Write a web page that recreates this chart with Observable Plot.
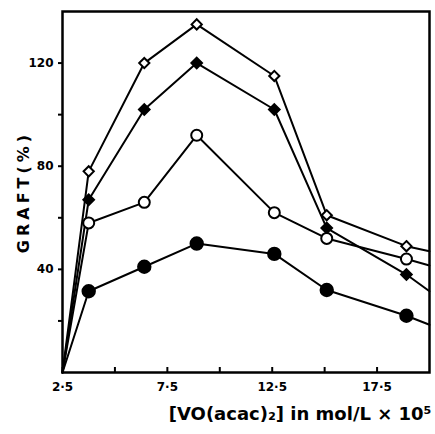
<!DOCTYPE html>
<html>
<head>
<meta charset="utf-8">
<script src="https://cdn.jsdelivr.net/npm/d3@7"></script>
<script src="https://cdn.jsdelivr.net/npm/@observablehq/plot@0.6"></script>
<style>
  html, body { margin: 0; padding: 0; background: #fff; }
  #chart svg { display: block; }
</style>
</head>
<body>
<div id="chart"></div>
<script>
// Concentration values (x) where markers are drawn, plus line start/end
const xMarkers = [3.75, 6.4, 8.9, 12.6, 15.1, 18.9];
const xStart = 2.5;
const xEnd = 20;

// Series (GRAFT %)
const openDiamond   = [78, 120, 135, 115, 61, 49];
const filledDiamond = [67, 102, 120, 102, 56, 38];
const openCircle    = [58, 66, 92, 62, 52, 44];
const filledCircle  = [31.5, 41, 50, 46, 32, 22];
const startValue = 0;
const endOpenDiamond = 47;
const endFilledDiamond = 31.5;
const endOpenCircle = 41.5;
const endFilledCircle = 18.5;

const xTicks = [2.5, 5, 7.5, 10, 12.5, 15, 17.5];
const xTickLabels = ["2·5", "", "7·5", "", "12·5", "", "17·5"];
const yTicks = [20, 40, 60, 80, 100, 120];
const yTickLabels = ["", "40", "", "80", "", "120"];

const yLabel = "GRAFT(%)";
const xLabel = "[VO(acac)\u2082] in mol/L \u00d7 10\u2075";

const series = [
  {name: "openDiamond", vals: openDiamond, end: endOpenDiamond, symbol: "diamond2", fill: "white", r: 4.6},
  {name: "filledDiamond", vals: filledDiamond, end: endFilledDiamond, symbol: "diamond2", fill: "black", r: 4.8},
  {name: "openCircle", vals: openCircle, end: endOpenCircle, symbol: "circle", fill: "white", r: 5.5},
  {name: "filledCircle", vals: filledCircle, end: endFilledCircle, symbol: "circle", fill: "black", r: 6.2}
];

const lineData = [];
for (const s of series) {
  lineData.push({s: s.name, x: xStart, y: startValue});
  s.vals.forEach((v, i) => lineData.push({s: s.name, x: xMarkers[i], y: v}));
  lineData.push({s: s.name, x: xEnd, y: s.end});
}

const dotMarks = series.map(s =>
  Plot.dot(s.vals.map((v, i) => ({x: xMarkers[i], y: v})), {
    x: "x", y: "y", symbol: s.symbol, fill: s.fill, r: s.r, stroke: "black", strokeWidth: 2
  })
);

const font = "DejaVu Sans, sans-serif";

const chart = Plot.plot({
  width: 435,
  height: 434,
  marginLeft: 62,
  marginRight: 6,
  marginTop: 11,
  marginBottom: 62,
  style: {fontFamily: font, background: "white", color: "black"},
  x: {domain: [2.5, 20]},
  y: {domain: [0, 140]},
  marks: [
    Plot.axisX({ticks: xTicks, tickFormat: (d, i) => xTickLabels[i], tickSize: -5, tickPadding: 15, label: null, fontSize: 12, fontWeight: "bold", strokeWidth: 2}),
    Plot.axisY({ticks: yTicks, tickFormat: (d, i) => yTickLabels[i], tickSize: 4, tickPadding: 5, label: null, fontSize: 12, fontWeight: "bold", strokeWidth: 2}),
    Plot.line(lineData, {x: "x", y: "y", z: "s", stroke: "black", strokeWidth: 2}),
    ...dotMarks,
    Plot.frame({stroke: "black", strokeWidth: 2.5}),
    Plot.text([yLabel], {frameAnchor: "left", textAnchor: "middle", rotate: -90, dx: -39, dy: 0, fontSize: 16, fontWeight: "bold", fontFamily: font}),
    Plot.text([xLabel], {frameAnchor: "bottom-right", textAnchor: "end", dx: 2, dy: 47, fontSize: 18, fontWeight: "bold", fontFamily: font})
  ]
});
// widen the letter spacing of the y-axis title like the reference
chart.querySelectorAll("text").forEach(t => {
  if (t.textContent === yLabel) t.style.letterSpacing = "4px";
});
document.getElementById("chart").appendChild(chart);
</script>
</body>
</html>
